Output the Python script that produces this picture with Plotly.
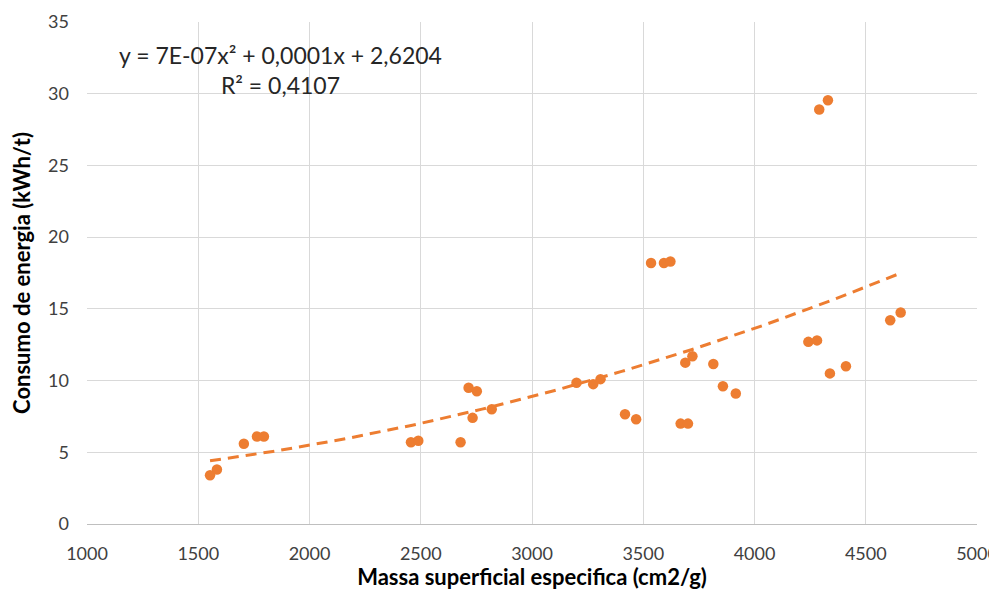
import numpy as np
import plotly.graph_objects as go

# Data
massa = [1553, 1584, 1705, 1764, 1795, 2456, 2489, 2679, 2715, 2752, 2733, 2819,
         3200, 3275, 3308, 3418, 3468, 3535, 3593, 3622, 3668, 3701, 3689, 3721,
         3815, 3858, 3916, 4291, 4330, 4242, 4281, 4339, 4411, 4610, 4657]
consumo = [3.4, 3.8, 5.6, 6.1, 6.1, 5.7, 5.8, 5.7, 9.5, 9.25, 7.4, 8.0,
           9.85, 9.75, 10.1, 7.65, 7.3, 18.2, 18.2, 18.3, 7.0, 7.0, 11.25, 11.7,
           11.15, 9.6, 9.1, 28.9, 29.55, 12.7, 12.8, 10.5, 11.0, 14.2, 14.75]

x_ticks = [1000, 1500, 2000, 2500, 3000, 3500, 4000, 4500, 5000]
y_ticks = [0, 5, 10, 15, 20, 25, 30, 35]

eq_text = "y = 7E-07x² + 0,0001x + 2,6204<br>R² = 0,4107"

orange = "#ED7D31"
font = "Lato, 'Open Sans', sans-serif"

# Polynomial (order 2) trendline fitted to the data, like the spreadsheet does
coef = np.polyfit(massa, consumo, 2)
xt = np.linspace(min(massa), max(massa), 100)
yt = np.polyval(coef, xt)

fig = go.Figure()
fig.add_trace(go.Scatter(x=xt, y=yt, mode="lines",
                         line=dict(color=orange, width=3, dash="11px,7px"),
                         hoverinfo="skip", showlegend=False))
fig.add_trace(go.Scatter(x=massa, y=consumo, mode="markers",
                         marker=dict(color=orange, size=10.5),
                         showlegend=False))

fig.add_annotation(text=eq_text, xref="paper", yref="paper",
                   x=0.217, y=0.966, xanchor="center", yanchor="top",
                   showarrow=False, align="center",
                   font=dict(family=font, size=23, color="#262626"))

fig.update_layout(
    width=989, height=582,
    margin=dict(l=79, r=20, t=14, b=66, autoexpand=False),
    paper_bgcolor="white", plot_bgcolor="white",
    font=dict(family=font, color="#404040"),
    xaxis=dict(range=[1000, 5000], tickvals=x_ticks, automargin=False,
               showgrid=True, gridcolor="#D9D9D9", gridwidth=1,
               zeroline=False, showline=True, linecolor="#BFBFBF", linewidth=1,
               tickfont=dict(size=18, color="#404040"), ticks="",
               ticklabelstandoff=13, ticklabeloverflow="allow",
               title=dict(text="<b>Massa superficial especifica (cm2/g)</b>",
                          font=dict(size=22, color="#000000"), standoff=13)),
    yaxis=dict(range=[0, 35], tickvals=y_ticks, automargin=False,
               showgrid=True, gridcolor="#D9D9D9", gridwidth=1,
               zeroline=False, showline=False,
               tickfont=dict(size=18, color="#404040"), ticks="",
               ticklabelstandoff=17, ticklabeloverflow="allow",
               title=dict(text="<b>Consumo de energia (kWh/t)</b>",
                          font=dict(size=22, color="#000000"), standoff=17)),
)

fig.write_html("out.html")
